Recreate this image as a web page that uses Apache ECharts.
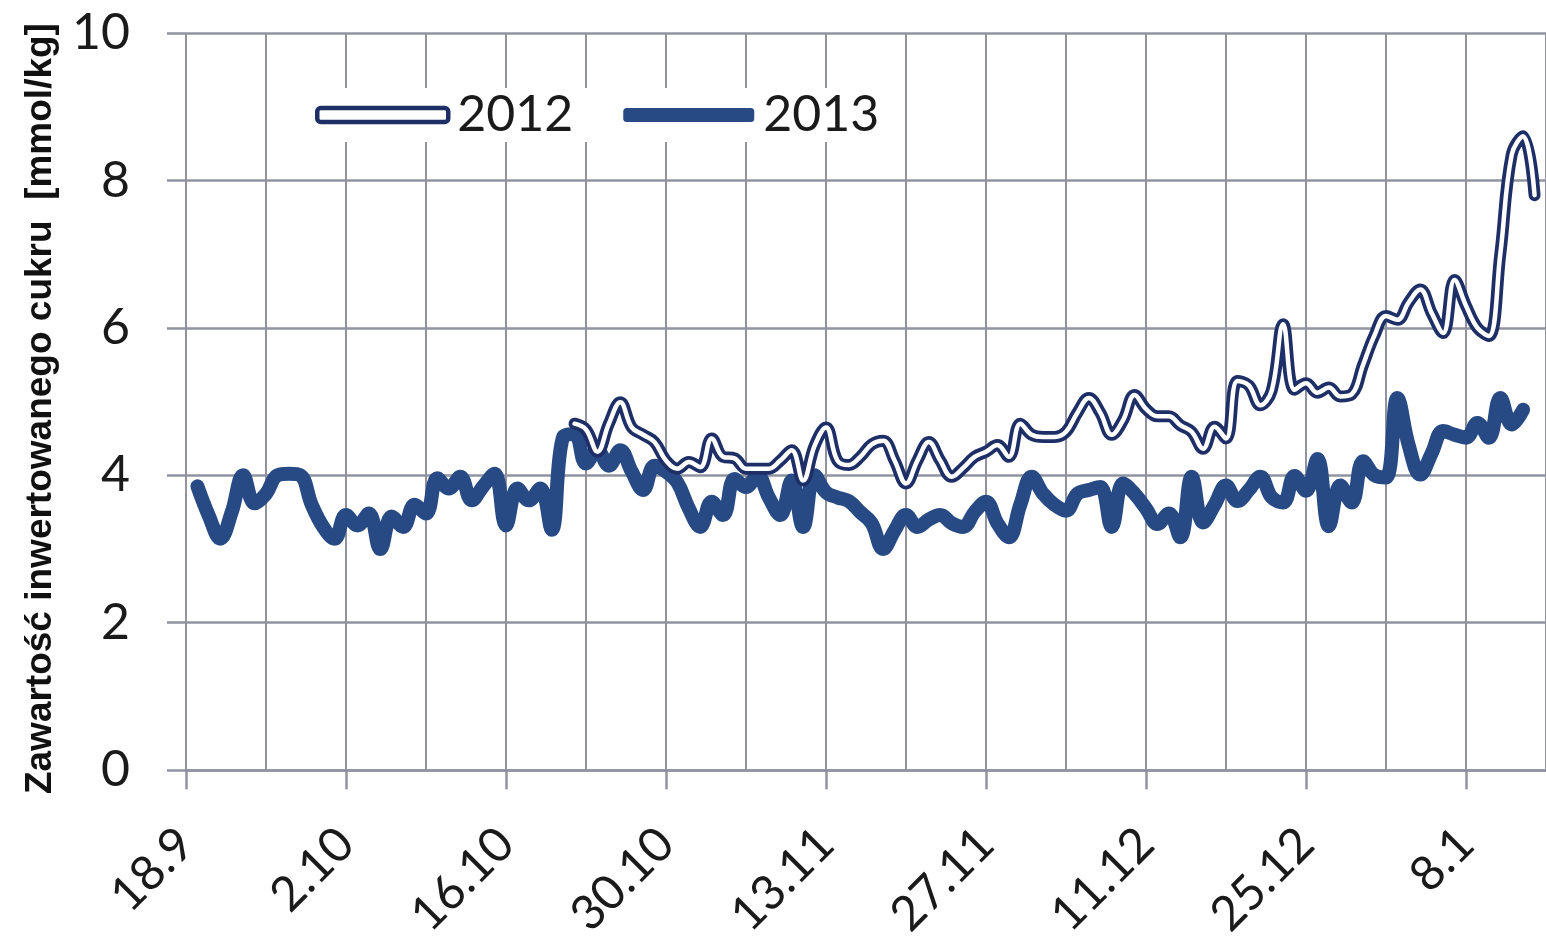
<!DOCTYPE html>
<html><head><meta charset="utf-8">
<script src="https://cdn.jsdelivr.net/npm/echarts@6/dist/echarts.min.js"></script>
<style>html,body{margin:0;padding:0;background:#fff}#c{width:1546px;height:942px}</style>
</head><body><div id="c"></div>
<script>
// x axis: one category per day, starting 18.9
const firstDay = { month: 8, day: 18 }; // 18 September
const dayCount = 120;
const yTicks = [0, 10, 2]; // min, max, interval

// 2013 series: daily values starting at day index 1 (19.9)
const start2013 = 1;
const vals2013 = [
  3.85,3.45,3.14,3.5,4.0,3.62,3.75,4.0,4.02,4.0,
  3.6,3.3,3.14,3.46,3.32,3.48,3.0,3.44,3.3,3.6,
  3.48,3.96,3.82,3.98,3.66,3.85,4.02,3.32,3.82,3.66,
  3.82,3.26,4.52,4.56,4.16,4.34,4.13,4.34,4.05,3.8,
  4.13,4.05,3.9,3.55,3.3,3.64,3.46,3.95,3.84,4.0,
  3.7,3.46,3.93,3.3,4.0,3.77,3.7,3.65,3.5,3.35,
  3.0,3.25,3.46,3.3,3.4,3.46,3.35,3.3,3.5,3.64,
  3.35,3.16,3.6,3.98,3.75,3.6,3.52,3.75,3.8,3.84,
  3.3,3.89,3.75,3.55,3.34,3.48,3.16,3.98,3.36,3.6,
  3.86,3.65,3.8,3.98,3.7,3.63,3.99,3.79,4.22,3.31,
  3.86,3.63,4.19,4.0,3.97,5.05,4.4,4.01,4.3,4.6,
  4.55,4.51,4.71,4.51,5.05,4.69,4.89
];

// 2012 series: daily values starting at day index 34 (22.10)
const start2012 = 34;
const vals2012 = [
  4.7,4.62,4.32,4.7,4.99,4.65,4.55,4.45,4.2,4.09,
  4.18,4.11,4.5,4.25,4.23,4.09,4.09,4.09,4.2,4.34,
  3.93,4.4,4.65,4.2,4.14,4.25,4.42,4.47,4.2,3.89,
  4.2,4.45,4.2,3.98,4.1,4.25,4.32,4.41,4.25,4.7,
  4.55,4.52,4.52,4.59,4.85,5.05,4.85,4.55,4.75,5.09,
  4.9,4.8,4.8,4.68,4.59,4.36,4.66,4.5,5.28,5.22,
  4.95,5.15,6.05,5.16,5.25,5.12,5.19,5.07,5.1,5.5,
  5.9,6.16,6.11,6.35,6.52,6.2,5.93,6.65,6.3,6.0,
  5.89,7.0,8.35,8.6,7.8
];

const seriesNames = ['2012', '2013'];
const yAxisTitle = 'Zawartość inwertowanego cukru  [mmol/kg]';

const categories = [];
for (let i = 0; i < dayCount; i++) {
  const d = new Date(2013, firstDay.month, firstDay.day + i);
  categories.push(d.getDate() + '.' + (d.getMonth() + 1));
}
const toPairs = (start, vals) => vals.map((v, i) => [start + i, v]);

const gridColor = '#9193a0';
const darkBlue = '#284a84';
const outline = '#1d2f66';
const fontNum = 'Lato, "Open Sans", sans-serif';

const chart = echarts.init(document.getElementById('c'), null, { renderer: 'canvas' });
chart.setOption({
  animation: false,
  backgroundColor: '#fff',
  grid: { left: 186, right: 0, top: 33, bottom: 169, containLabel: false },
  legend: {
    left: 303, top: 88,
    itemWidth: 131, itemHeight: 14, itemGap: 50,
    padding: [2, 12],
    backgroundColor: '#fff',
    textStyle: { fontSize: 50, fontFamily: fontNum, color: '#1a1a1a', padding: [0, 0, 0, 4] },
    data: [
      { name: seriesNames[0], icon: 'roundRect', itemStyle: { color: '#fff', borderColor: outline, borderWidth: 4.5 } },
      { name: seriesNames[1], icon: 'roundRect', itemStyle: { color: darkBlue, borderWidth: 0 } }
    ]
  },
  xAxis: {
    type: 'category',
    boundaryGap: false,
    data: categories,
    axisLine: { show: true, lineStyle: { color: gridColor, width: 2.5 } },
    axisTick: { show: true, interval: 13, length: 19, lineStyle: { color: gridColor, width: 2.5 } },
    axisLabel: { interval: 13, rotate: 45, margin: 66, fontSize: 48, fontFamily: fontNum, color: '#1a1a1a' },
    splitLine: { show: true, interval: 6, lineStyle: { color: gridColor, width: 2 } }
  },
  yAxis: {
    type: 'value',
    min: yTicks[0], max: yTicks[1], interval: yTicks[2],
    name: yAxisTitle,
    nameLocation: 'middle',
    nameGap: 127,
    nameTextStyle: { fontFamily: '"Liberation Sans", Arial, sans-serif', fontWeight: 'bold', fontSize: 37, color: '#111', padding: [0, 14, 0, 0] },
    axisLine: { show: false },
    axisTick: { show: true, length: 19, lineStyle: { color: gridColor, width: 2.5 } },
    axisLabel: { margin: 56, fontSize: 50, fontFamily: fontNum, color: '#1a1a1a' },
    splitLine: { show: true, lineStyle: { color: gridColor, width: 2.5 } }
  },
  series: [
    {
      name: seriesNames[1], type: 'line', smooth: 0.4, symbol: 'none', z: 2,
      itemStyle: { color: darkBlue },
      lineStyle: { color: darkBlue, width: 14, cap: 'round', join: 'round' },
      data: toPairs(start2013, vals2013)
    },
    {
      name: seriesNames[0], type: 'line', smooth: 0.4, symbol: 'none', z: 3,
      itemStyle: { color: outline },
      lineStyle: { color: outline, width: 12, cap: 'round', join: 'round' },
      data: toPairs(start2012, vals2012)
    },
    {
      name: seriesNames[0] + ' ', type: 'line', smooth: 0.4, symbol: 'none', z: 4, silent: true,
      lineStyle: { color: '#ffffff', width: 4.5, cap: 'round', join: 'round' },
      data: toPairs(start2012, vals2012)
    }
  ]
});
</script>
</body></html>
